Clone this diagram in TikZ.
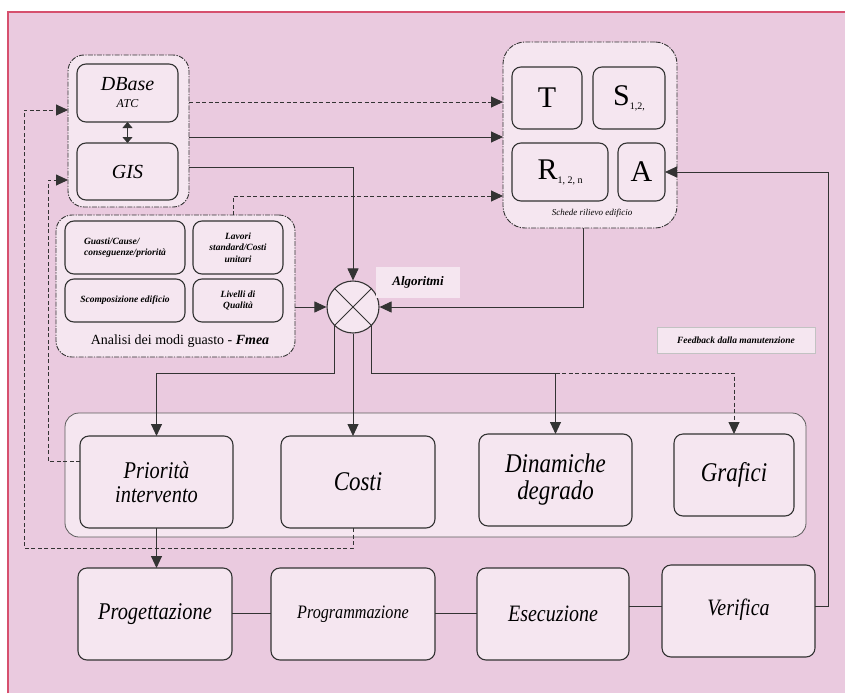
\documentclass[tikz,border=0pt]{standalone}
\usepackage{fontspec}
\setmainfont{Liberation Serif}
\newfontfamily\cond[FakeStretch=0.85]{Liberation Serif}
\usetikzlibrary{arrows.meta,calc}
\definecolor{bgpink}{HTML}{EACADF}
\definecolor{boxfill}{HTML}{F5E6F0}
\definecolor{redline}{HTML}{D6506E}
\definecolor{ink}{HTML}{333333}
\begin{document}
\begin{tikzpicture}[x=1pt,y=-1pt,
  box/.style={draw=ink, line width=1.1pt, fill=boxfill, rounded corners=9pt, inner sep=0pt, outer sep=0pt, align=center},
  grp/.style={draw=ink, line width=0.9pt, fill=boxfill, rounded corners=16pt, dash pattern=on 5pt off 1.3pt on 1.3pt off 1.3pt, inner sep=0pt, outer sep=0pt},
  conn/.style={draw=ink, line width=0.9pt},
  arr/.style={conn, -{Triangle[length=12pt,width=11pt]}},
  dsh/.style={dash pattern=on 4pt off 2.5pt},
  big/.style={font=\cond\itshape\fontsize{#1}{#1}\selectfont},
  fm/.style={font=\bfseries\itshape\fontsize{9.5}{11.5}\selectfont},
  lett/.style={font=\fontsize{30}{30}\selectfont}
]
\useasboundingbox (0,0) rectangle (845,693);
\fill[white] (0,0) rectangle (845,693);
\fill[bgpink] (8,12) rectangle (845,693);
\draw[redline, line width=1.2pt] (8,693) -- (8,12) -- (845,12);

% level coordinates
\coordinate (y102) at (0,102);
\coordinate (y110) at (0,110);
\coordinate (y137) at (0,137);
\coordinate (y167) at (0,167);
\coordinate (y180) at (0,180);
\coordinate (y196) at (0,196);
\coordinate (y373) at (0,373);
\coordinate (y461) at (0,461);
\coordinate (y548) at (0,548);
\coordinate (y606) at (0,606);
\coordinate (y613) at (0,613);
\coordinate (x24) at (24,0);
\coordinate (x48) at (48,0);
\coordinate (x233) at (233,0);
\coordinate (x353) at (353,0);
\coordinate (x583) at (583,0);
\coordinate (x828) at (828,0);

% groups
\node[grp, minimum width=121pt, minimum height=152pt] (dbgroup) at (128.5,131) {};
\node[grp, minimum width=174pt, minimum height=186pt, rounded corners=22pt] (schede) at (590,135) {};
\node[grp, minimum width=239pt, minimum height=142pt] (fmea) at (175.5,286) {};
\node[draw=ink!80, line width=0.8pt, fill=boxfill, rounded corners=14pt, minimum width=741pt, minimum height=124pt, inner sep=0pt] (cont) at (435.5,475) {};

% DBase / GIS
\node[box, minimum width=101pt, minimum height=58pt, font=\itshape] (dbase) at (127.5,93)
  {\fontsize{20}{20}\selectfont DBase\\[5pt] \fontsize{12}{17}\selectfont ATC};
\node[box, minimum width=101pt, minimum height=57pt] (gis) at (127.5,171.5)
  {\itshape\fontsize{20}{20}\selectfont GIS};

% Schede
\node[box, minimum width=70pt, minimum height=62pt, lett] (T) at (547,98) {T};
\node[box, minimum width=72pt, minimum height=62pt, lett] (S) at (629,98)
  {S\raisebox{-4pt}{\fontsize{10}{10}\selectfont 1,2,}};
\node[box, minimum width=96pt, minimum height=58pt, lett] (R) at (560,172)
  {R\raisebox{-4pt}{\fontsize{10}{10}\selectfont 1, 2, n}};
\node[box, minimum width=47pt, minimum height=58pt, lett] (A) at (641.5,172) {A};
\node[font=\itshape\fontsize{9}{9}\selectfont, inner sep=0pt] (schedelbl) at (592,213) {Schede rilievo edificio};

% Fmea
\node[box, minimum width=120pt, minimum height=53pt, fm, align=left] (guasti) at (125,247.5)
  {Guasti/Cause/\\conseguenze/priorità};
\node[box, minimum width=90pt, minimum height=53pt, fm] (lavori) at (238,247.5)
  {Lavori\\standard/Costi\\unitari};
\node[box, minimum width=120pt, minimum height=43pt, fm] (scomp) at (125,300.5)
  {Scomposizione edificio};
\node[box, minimum width=90pt, minimum height=43pt, fm] (livelli) at (238,300.5)
  {Livelli di\\Qualità};
\node[font=\fontsize{14}{14}\selectfont, inner sep=0pt] (fmealbl) at (180,341)
  {Analisi dei modi guasto - \textbf{\textit{Fmea}}};

% Algorithm circle
\node[circle, draw=ink, line width=1.1pt, fill=boxfill, minimum size=52pt, inner sep=0pt] (circ) at (353,307) {};
\draw[ink, line width=1pt] (circ.45) -- (circ.225) (circ.135) -- (circ.315);
\node[fill=boxfill, minimum width=84pt, minimum height=31pt, inner sep=0pt,
  font=\bfseries\itshape\fontsize{13}{13}\selectfont] (algo) at (418,282.5) {Algoritmi};
\node[fill=boxfill, draw=ink!30, line width=0.4pt, minimum width=158pt, minimum height=26pt, inner sep=0pt,
  font=\bfseries\itshape\fontsize{9.5}{9.5}\selectfont] (feedback) at (736,340) {Feedback dalla manutenzione};

% Result boxes
\node[box, minimum width=153pt, minimum height=92pt, big=24] (prio) at (156.5,482) {Priorità\\intervento};
\node[box, minimum width=154pt, minimum height=92pt, big=27] (costi) at (358,482) {Costi};
\node[box, minimum width=153pt, minimum height=92pt, big=27] (dinam) at (555.5,480) {Dinamiche\\degrado};
\node[box, minimum width=120pt, minimum height=82pt, big=27] (graf) at (734,475) {Grafici};

% Process boxes
\node[box, minimum width=154pt, minimum height=92pt, big=24] (prog) at (155,614) {Progettazione};
\node[box, minimum width=164pt, minimum height=92pt, big=19] (programm) at (353,614) {Programmazione};
\node[box, minimum width=152pt, minimum height=92pt, big=23.5] (esec) at (553,614) {Esecuzione};
\node[box, minimum width=153pt, minimum height=92pt, big=23.5] (verif) at (738.5,611) {\raisebox{7pt}{Verifica}};

% connectors
\draw[{Triangle[length=6pt,width=10pt]}-{Triangle[length=6pt,width=10pt]}, conn] (dbase.south) -- (gis.north);
\draw[arr, dsh] (dbgroup.east |- y102) -- (schede.west |- y102);
\draw[arr] (dbgroup.east |- y137) -- (schede.west |- y137);
\draw[arr] (dbgroup.east |- y167) -| (circ.north);
\draw[arr, dsh] (fmea.north -| x233) |- (schede.west |- y196);
\draw[arr] (fmea.east |- circ.west) -- (circ.west);
\draw[arr] (schede.south -| x583) |- (circ.east);
\draw[arr] (circ.225) -- (circ.225 |- y373) -| (prio.north);
\draw[arr] (circ.south) -- (circ.south |- costi.north);
\draw[arr] (circ.315) -- (circ.315 |- y373) -| (dinam.north);
\coordinate (split) at (dinam.north |- y373);
\draw[arr, dsh] (split) -| (graf.north);
\draw[arr, dsh] (prio.west |- y461) -| (x48 |- y180) -- (dbgroup.west |- y180);
\draw[arr, dsh] (costi.south -| x353) -- (x353 |- y548) -| (x24 |- y110) -- (dbgroup.west |- y110);
\draw[arr] (prio.south) -- (prio.south |- prog.north);
\draw[conn] (prog.east |- y613) -- (programm.west |- y613);
\draw[conn] (programm.east |- y613) -- (esec.west |- y613);
\draw[conn] (esec.east |- y606) -- (verif.west |- y606);
\draw[arr] (verif.east |- y606) -- (x828 |- y606) |- (A.east);
\end{tikzpicture}
\end{document}
